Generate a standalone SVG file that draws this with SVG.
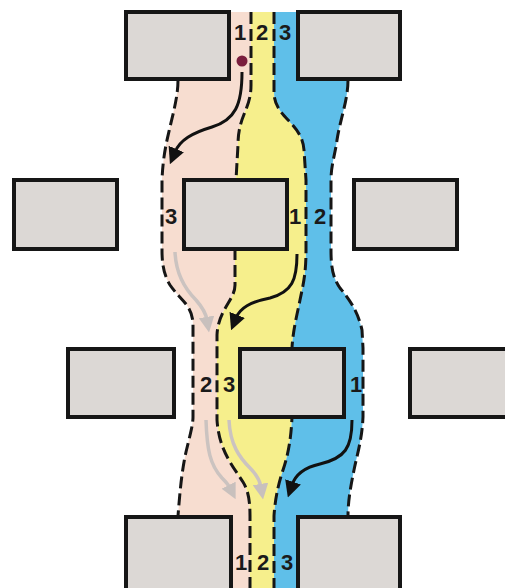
<svg xmlns="http://www.w3.org/2000/svg" width="505" height="588" viewBox="0 0 505 588">
<style>
.box{fill:#dcd8d5;stroke:#161616;stroke-width:4}
.lane{stroke:none}
.dash{fill:none;stroke:#161616;stroke-width:3;stroke-dasharray:12 5}
.lbl{font-family:"Liberation Sans",Arial,sans-serif;font-weight:bold;font-size:22px;fill:#1a1a1a;text-anchor:middle}
.arr{fill:none;stroke:#111;stroke-width:3}
.garr{fill:none;stroke:#cbc3c0;stroke-width:3.5}
</style>
<defs>
<marker id="ah" viewBox="0 0 10 10" refX="2" refY="5" markerWidth="5.5" markerHeight="5.5" orient="auto" markerUnits="strokeWidth">
<path d="M0,0 L10,5 L0,10 Z" fill="#111"/>
</marker>
<marker id="gh" viewBox="0 0 10 10" refX="2" refY="5" markerWidth="4.5" markerHeight="4.5" orient="auto" markerUnits="strokeWidth">
<path d="M0,0 L10,5 L0,10 Z" fill="#c8c0bd"/>
</marker>
</defs>
<rect width="505" height="588" fill="#ffffff"/>
<g id="lanes">
<path id="lane-pink" class="lane" fill="#f7ddd0" d="M178 12 L251 12 L251 85 C251 110 238 115 238 145 L236 180 L235 250 L235 285 C235 300 218 310 217 335 L217 420 C219 450 232 465 243 482 C248 490 250 500 250 516 L250 588 L178 588 L178 516 C180 490 182 470 186 452 C190 435 193 425 193 417 L193 325 C193 305 180 300 170 285 C164 275 162 265 162 250 L162 180 C163 155 167 140 170 127 C174 110 178 95 178 80 Z"/>
<path id="lane-yellow" class="lane" fill="#f6ef8c" d="M251 12 L274 12 L274 92 C274 118 302 122 304 150 L306 180 L306 250 C306 275 303 285 300 300 C297 315 293 330 292 348 L292 417 C291 440 288 455 283 470 C278 485 275 500 274 516 L274 588 L250 588 L250 516 C250 500 248 490 243 482 C232 465 219 450 217 420 L217 335 C218 310 235 300 235 285 L235 250 L236 180 L238 145 C238 115 251 110 251 85 Z"/>
<path id="lane-blue" class="lane" fill="#5fbfe9" d="M274 12 L348 12 L348 80 C348 100 340 120 337 140 C335 155 331 165 331 180 L331 250 C331 268 333 278 340 288 C350 300 358 312 362 330 L363 348 L363 417 C362 440 357 455 354 470 C351 485 348 500 348 516 L348 588 L274 588 L274 516 C275 500 278 485 283 470 C288 455 291 440 292 417 L292 348 C293 330 297 315 300 300 C303 285 306 275 306 250 L306 180 L304 150 C302 122 274 118 274 92 Z"/>
</g>
<g id="connectors">
<path class="dash" d="M178 80 C178 95 174 110 170 127 C167 140 163 155 162 180 L162 250 C162 265 164 275 170 285 C180 300 193 305 193 325 L193 417 C193 425 190 435 186 452 C182 470 180 490 178 516"/>
<path class="dash" d="M251 12 L251 85 C251 110 238 115 238 145 L236 180 L235 250 L235 285 C235 300 218 310 217 335 L217 420 C219 450 232 465 243 482 C248 490 250 500 250 516 L250 588"/>
<path class="dash" d="M274 12 L274 92 C274 118 302 122 304 150 L306 180 L306 250 C306 275 303 285 300 300 C297 315 293 330 292 348 L292 417 C291 440 288 455 283 470 C278 485 275 500 274 516 L274 588"/>
<path class="dash" d="M348 80 C348 100 340 120 337 140 C335 155 331 165 331 180 L331 250 C331 268 333 278 340 288 C350 300 358 312 362 330 L363 348 L363 417 C362 440 357 455 354 470 C351 485 348 500 348 516"/>
<path class="garr" marker-end="url(#gh)" d="M175 252 C176 275 186 290 196 300 C203 308 206 314 207 320"/>
<path class="garr" marker-end="url(#gh)" d="M206 420 C207 450 210 465 222 478 C227 483 229 486 230 488"/>
<path class="garr" marker-end="url(#gh)" d="M229 420 C230 445 240 458 250 468 C257 475 260 481 261 487"/>
<path class="arr" marker-end="url(#ah)" d="M242 72 C242 105 235 120 212 127 C192 133 180 140 175 152"/>
<path class="arr" marker-end="url(#ah)" d="M297 254 C297 280 292 292 270 298 C250 302 240 308 236 318"/>
<path class="arr" marker-end="url(#ah)" d="M352 420 C352 448 345 458 320 464 C302 468 295 476 292 485"/>
<circle cx="242" cy="61" r="5.5" fill="#7a1e3e"/>
</g>
<g id="box-top-left"><rect class="box" x="126" y="12" width="103" height="67"/></g>
<g id="box-top-right"><rect class="box" x="298" y="12" width="102" height="67"/></g>
<g id="box-r2-left"><rect class="box" x="14" y="180" width="103" height="69"/></g>
<g id="box-r2-mid"><rect class="box" x="184" y="180" width="103" height="69"/></g>
<g id="box-r2-right"><rect class="box" x="354" y="180" width="103" height="69"/></g>
<g id="box-r3-left"><rect class="box" x="68" y="349" width="106" height="68"/></g>
<g id="box-r3-mid"><rect class="box" x="240" y="349" width="104" height="68"/></g>
<g id="box-r3-right"><rect class="box" x="410" y="349" width="104" height="68"/></g>
<g id="box-bot-left"><rect class="box" x="126" y="517" width="105" height="75"/></g>
<g id="box-bot-right"><rect class="box" x="298" y="517" width="102" height="75"/></g>
<g id="labels">
<text class="lbl" x="240" y="40">1</text>
<text class="lbl" x="262" y="40">2</text>
<text class="lbl" x="285" y="40">3</text>
<text class="lbl" x="171" y="224">3</text>
<text class="lbl" x="295" y="224">1</text>
<text class="lbl" x="320" y="224">2</text>
<text class="lbl" x="206" y="392">2</text>
<text class="lbl" x="229" y="392">3</text>
<text class="lbl" x="356" y="392">1</text>
<text class="lbl" x="241" y="570">1</text>
<text class="lbl" x="263" y="570">2</text>
<text class="lbl" x="287" y="570">3</text>
</g>
</svg>
